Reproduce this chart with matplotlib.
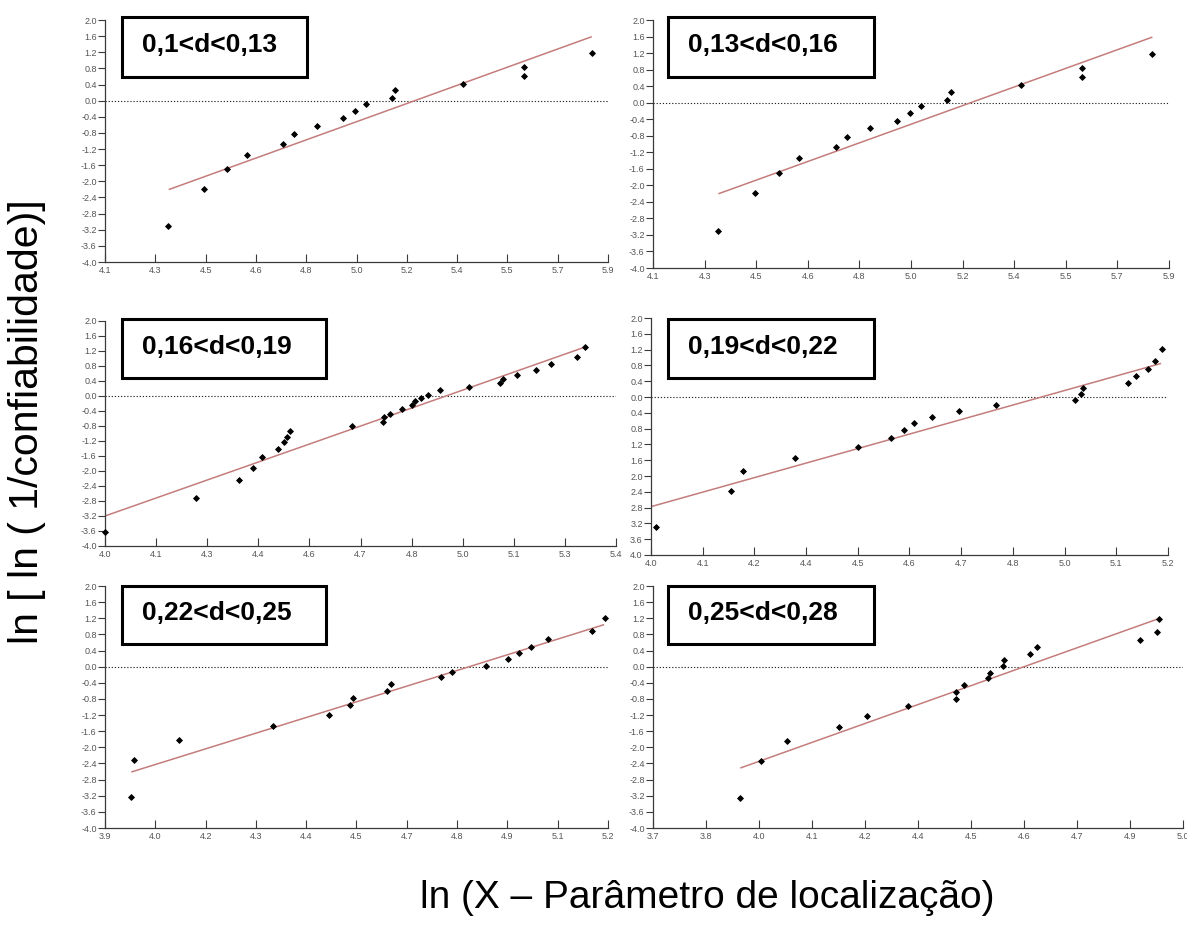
import numpy as np
import matplotlib
matplotlib.use("Agg")
import matplotlib.pyplot as plt
from matplotlib.patches import Rectangle

# ---- data -------------------------------------------------------------
panel_titles = ["0,1<d<0,13", "0,13<d<0,16", "0,16<d<0,19",
                "0,19<d<0,22", "0,22<d<0,25", "0,25<d<0,28"]

x_d1 = [4.326, 4.455, 4.538, 4.608, 4.737, 4.778, 4.858, 4.950, 4.996,
        5.034, 5.126, 5.138, 5.382, 5.598, 5.598, 5.842]
y_d1 = [-3.107, -2.189, -1.692, -1.336, -1.063, -0.831, -0.616, -0.442,
        -0.260, -0.086, 0.071, 0.253, 0.419, 0.609, 0.841, 1.172]

x_d2 = list(x_d1)
y_d2 = list(y_d1)

x_d3 = [4.000, 4.249, 4.368, 4.406, 4.431, 4.475, 4.490, 4.498, 4.507,
        4.677, 4.761, 4.765, 4.782, 4.814, 4.840, 4.848, 4.866, 4.884,
        4.917, 4.996, 5.083, 5.091, 5.128, 5.180, 5.221, 5.292, 5.316]
y_d3 = [-3.617, -2.720, -2.241, -1.913, -1.638, -1.425, -1.239, -1.088,
        -0.937, -0.813, -0.689, -0.573, -0.467, -0.351, -0.253, -0.138,
        -0.049, 0.039, 0.154, 0.252, 0.358, 0.456, 0.571, 0.705, 0.847,
        1.033, 1.308]

x_d4 = [4.012, 4.185, 4.214, 4.335, 4.481, 4.556, 4.587, 4.610, 4.652,
        4.716, 4.800, 4.985, 4.997, 5.002, 5.107, 5.125, 5.154, 5.169, 5.186]
y_d4 = [-3.283, -2.370, -1.880, -1.533, -1.271, -1.035, -0.840, -0.663,
        -0.502, -0.350, -0.206, -0.068, 0.076, 0.225, 0.367, 0.519, 0.707,
        0.899, 1.214]

x_d5 = [3.968, 3.974, 4.092, 4.335, 4.478, 4.533, 4.540, 4.630, 4.640,
        4.769, 4.796, 4.885, 4.942, 4.969, 5.000, 5.045, 5.159, 5.191]
y_d5 = [-3.231, -2.307, -1.812, -1.465, -1.201, -0.962, -0.765, -0.592,
        -0.427, -0.254, -0.122, 0.027, 0.184, 0.333, 0.498, 0.680, 0.894,
        1.215]

x_d6 = [3.914, 3.965, 4.028, 4.157, 4.224, 4.325, 4.444, 4.444, 4.464,
        4.522, 4.527, 4.559, 4.561, 4.624, 4.643, 4.895, 4.936, 4.940]
y_d6 = [-3.256, -2.332, -1.837, -1.490, -1.226, -0.987, -0.797, -0.616,
        -0.450, -0.277, -0.145, 0.012, 0.168, 0.309, 0.482, 0.656, 0.869,
        1.191]

# fitted lines: y = intercept + slope * x, drawn over [x_start, x_end]
fit_slope = [2.504, 2.504, 3.426, 3.063, 2.990, 3.609]
fit_intercept = [-13.042, -13.042, -16.904, -15.028, -14.476, -16.639]
fit_x_start = [4.328, 4.328, 4.000, 4.000, 3.968, 3.914]
fit_x_end = [5.842, 5.842, 5.316, 5.184, 5.190, 4.940]

# axis ranges and tick labels
x_ranges = [(4.1, 5.9), (4.1, 5.9), (4.0, 5.4), (4.0, 5.2), (3.9, 5.2), (3.7, 5.0)]
xtick_labels = [
    ["4.1", "4.3", "4.5", "4.6", "4.8", "5.0", "5.2", "5.4", "5.5", "5.7", "5.9"],
    ["4.1", "4.3", "4.5", "4.6", "4.8", "5.0", "5.2", "5.4", "5.5", "5.7", "5.9"],
    ["4.0", "4.1", "4.3", "4.4", "4.6", "4.7", "4.8", "5.0", "5.1", "5.3", "5.4"],
    ["4.0", "4.1", "4.2", "4.4", "4.5", "4.6", "4.7", "4.8", "5.0", "5.1", "5.2"],
    ["3.9", "4.0", "4.2", "4.3", "4.4", "4.5", "4.7", "4.8", "4.9", "5.1", "5.2"],
    ["3.7", "3.8", "4.0", "4.1", "4.2", "4.4", "4.5", "4.6", "4.7", "4.9", "5.0"],
]
y_range = (-4.0, 2.0)
ytick_values = [2.0, 1.6, 1.2, 0.8, 0.4, 0.0, -0.4, -0.8, -1.2, -1.6,
                -2.0, -2.4, -2.8, -3.2, -3.6, -4.0]
ytick_labels_signed = ["2.0", "1.6", "1.2", "0.8", "0.4", "0.0", "-0.4", "-0.8",
                       "-1.2", "-1.6", "-2.0", "-2.4", "-2.8", "-3.2", "-3.6", "-4.0"]
ytick_labels_plain = ["2.0", "1.6", "1.2", "0.8", "0.4", "0.0", "0.4", "0.8",
                      "1.2", "1.6", "2.0", "2.4", "2.8", "3.2", "3.6", "4.0"]

xs = [x_d1, x_d2, x_d3, x_d4, x_d5, x_d6]
ys = [y_d1, y_d2, y_d3, y_d4, y_d5, y_d6]

# ---- layout (pixels) --------------------------------------------------
W, H = 1187, 943
axes_px = [  # left, right, top, bottom
    (105, 608, 20, 262),
    (653, 1169, 20, 268),
    (105, 616, 321, 546),
    (651, 1168, 318, 555),
    (105, 608, 586, 828),
    (653, 1183, 586, 828),
]
boxes_px = [  # left, top, right, bottom
    (122, 17, 307, 77),
    (668, 17, 874, 77),
    (122, 319, 326, 378),
    (668, 319, 874, 378),
    (122, 586, 326, 644),
    (668, 586, 874, 644),
]

plt.rcParams["font.family"] = ["Liberation Sans", "DejaVu Sans"]

fig = plt.figure(figsize=(W / 100, H / 100), dpi=100)
fig.patch.set_facecolor("white")

tick_font = ["Liberation Sans Narrow", "Liberation Sans", "DejaVu Sans"]
spine_col = "#3a3a3a"

for i in range(6):
    l, r, t, b = axes_px[i]
    ax = fig.add_axes([l / W, 1 - b / H, (r - l) / W, (b - t) / H])
    ax.set_facecolor("none")
    x0, x1 = x_ranges[i]
    ax.set_xlim(x0, x1)
    ax.set_ylim(*y_range)

    ax.axhline(0.0, color="#222222", lw=0.8, ls=(0, (1.1, 1.7)), zorder=1)

    fx = np.array([fit_x_start[i], fit_x_end[i]])
    ax.plot(fx, fit_intercept[i] + fit_slope[i] * fx, color="#c47c7c",
            lw=1.1, zorder=2, solid_capstyle="butt")

    ax.plot(xs[i], ys[i], ls="none", marker="D", ms=3.0, color="black",
            mec="black", mew=0.6, zorder=3, clip_on=False)

    for s in ("top", "right"):
        ax.spines[s].set_visible(False)
    for s in ("left", "bottom"):
        ax.spines[s].set_color(spine_col)
        ax.spines[s].set_linewidth(0.9)

    ax.set_xticks(np.linspace(x0, x1, 11))
    ax.set_xticklabels(xtick_labels[i], family=tick_font, fontsize=6.5,
                       color="#555555")
    ax.set_yticks(ytick_values)
    ylabels = ytick_labels_plain if i == 3 else ytick_labels_signed
    ax.set_yticklabels(ylabels, family=tick_font, fontsize=6.5, color="#555555")
    ax.tick_params(axis="x", direction="in", length=6, width=0.8,
                   color=spine_col, pad=3)
    ax.tick_params(axis="y", direction="out", length=5, width=0.8,
                   color=spine_col, pad=1)

    # range label box
    bl, bt, br, bb = boxes_px[i]
    fig.patches.append(Rectangle((bl / W, 1 - bb / H), (br - bl) / W,
                                 (bb - bt) / H, transform=fig.transFigure,
                                 facecolor="white", edgecolor="black",
                                 lw=2.2, zorder=5))
    fig.text((bl + 20) / W, 1 - ((bt + bb) / 2 - 2) / H, panel_titles[i],
             fontsize=19, fontweight="bold", ha="left", va="center",
             zorder=6)

fig.text(27 / W, 1 - 422 / H, "ln [ ln ( 1/confiabilidade)]", rotation=90,
         fontsize=29.5, ha="center", va="center")
fig.text(707 / W, 1 - 898 / H, "ln (X \u2013 Par\u00e2metro de localiza\u00e7\u00e3o)",
         fontsize=28, ha="center", va="center")

fig.savefig("out.png", dpi=100, facecolor="white")
